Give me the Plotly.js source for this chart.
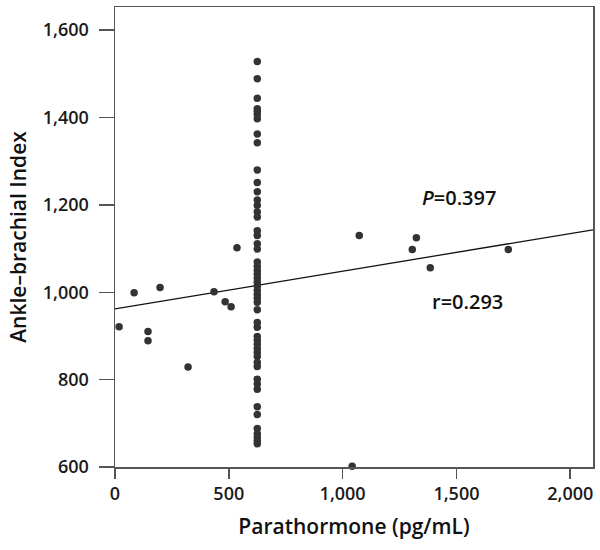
<!DOCTYPE html>
<html>
<head>
<meta charset="utf-8">
<script src="https://cdn.plot.ly/plotly-3.0.1.min.js"></script>
<style>html,body{margin:0;padding:0;background:#fff;}#chart{width:600px;height:550px;}</style>
</head>
<body>
<div id="chart"></div>
<script>
// Parathormone (pg/mL) values
const pthX = [
  625,625,625,625,625,625,625,625,625,625,
  625,625,625,625,625,625,625,625,625,625,
  625,625,625,625,625,625,625,625,625,625,
  625,625,625,625,625,625,625,625,625,625,
  625,625,625,625,625,625,625,625,625,625,
  625,625,
  18,84,145,145,198,321,435,484,510,536,
  1073,1306,1324,1385,1728,1042
];
// Ankle-brachial index values
const abiY = [
  1528,1489,1444,1420,1414,1407,1397,1362,1342,1280,
  1251,1230,1211,1199,1184,1172,1141,1130,1111,1099,
  1069,1059,1050,1041,1032,1023,1014,1004,995,986,
  977,960,931,920,899,890,881,871,862,853,
  839,830,801,790,778,738,720,688,676,668,
  660,653,
  921,999,910,889,1011,829,1001,978,967,1102,
  1130,1098,1125,1056,1098,602
];
// Fitted regression line end points
const fitX = [0, 2100];
const fitY = [962, 1143];
// Axis ticks
const xTicks = [0, 500, 1000, 1500, 2000];
const yTicks = [600, 800, 1000, 1200, 1400, 1600];
const statLabels = ['<i>P</i>=0.397', 'r=0.293'];
const statX = [1510, 1548];
const statY = [1218, 978];

const fontFam = '"Open Sans", "Liberation Sans", sans-serif';

const traces = [
  {
    x: fitX, y: fitY, type: 'scatter', mode: 'lines',
    line: {color: '#111', width: 1.3}, hoverinfo: 'skip', cliponaxis: true
  },
  {
    x: pthX, y: abiY, type: 'scatter', mode: 'markers',
    marker: {color: '#333', size: 7.5, line: {width: 0}},
    cliponaxis: false
  }
];

const annotations = statLabels.map((t, i) => ({
  x: statX[i], y: statY[i], xref: 'x', yref: 'y', text: t, showarrow: false,
  font: {family: fontFam, size: 20, color: '#111', weight: 600}
}));

const axisCommon = {
  showgrid: false, zeroline: false, showline: true, mirror: true,
  linecolor: '#555', linewidth: 1.5, ticks: 'outside', tickcolor: '#555',
  tickwidth: 1.5, tickfont: {family: fontFam, size: 18, color: '#1a1a1a', weight: 600},
  tickformat: ',d'
};

const layout = {
  width: 600, height: 550,
  margin: {l: 115, r: 7, t: 7, b: 83},
  paper_bgcolor: '#fff', plot_bgcolor: '#fff',
  showlegend: false,
  xaxis: Object.assign({}, axisCommon, {
    range: [0, 2100], tickvals: xTicks, ticklen: 10,
    title: {text: 'Parathormone (pg/mL)', font: {family: fontFam, size: 21, color: '#111', weight: 600}, standoff: 15}
  }),
  yaxis: Object.assign({}, axisCommon, {
    range: [600, 1653], tickvals: yTicks, ticklen: 15, ticklabelstandoff: 6,
    title: {text: 'Ankle–brachial Index', font: {family: fontFam, size: 21, color: '#111', weight: 600}, standoff: 10}
  }),
  annotations: annotations
};

Plotly.newPlot('chart', traces, layout, {displayModeBar: false, staticPlot: true});
</script>
</body>
</html>
